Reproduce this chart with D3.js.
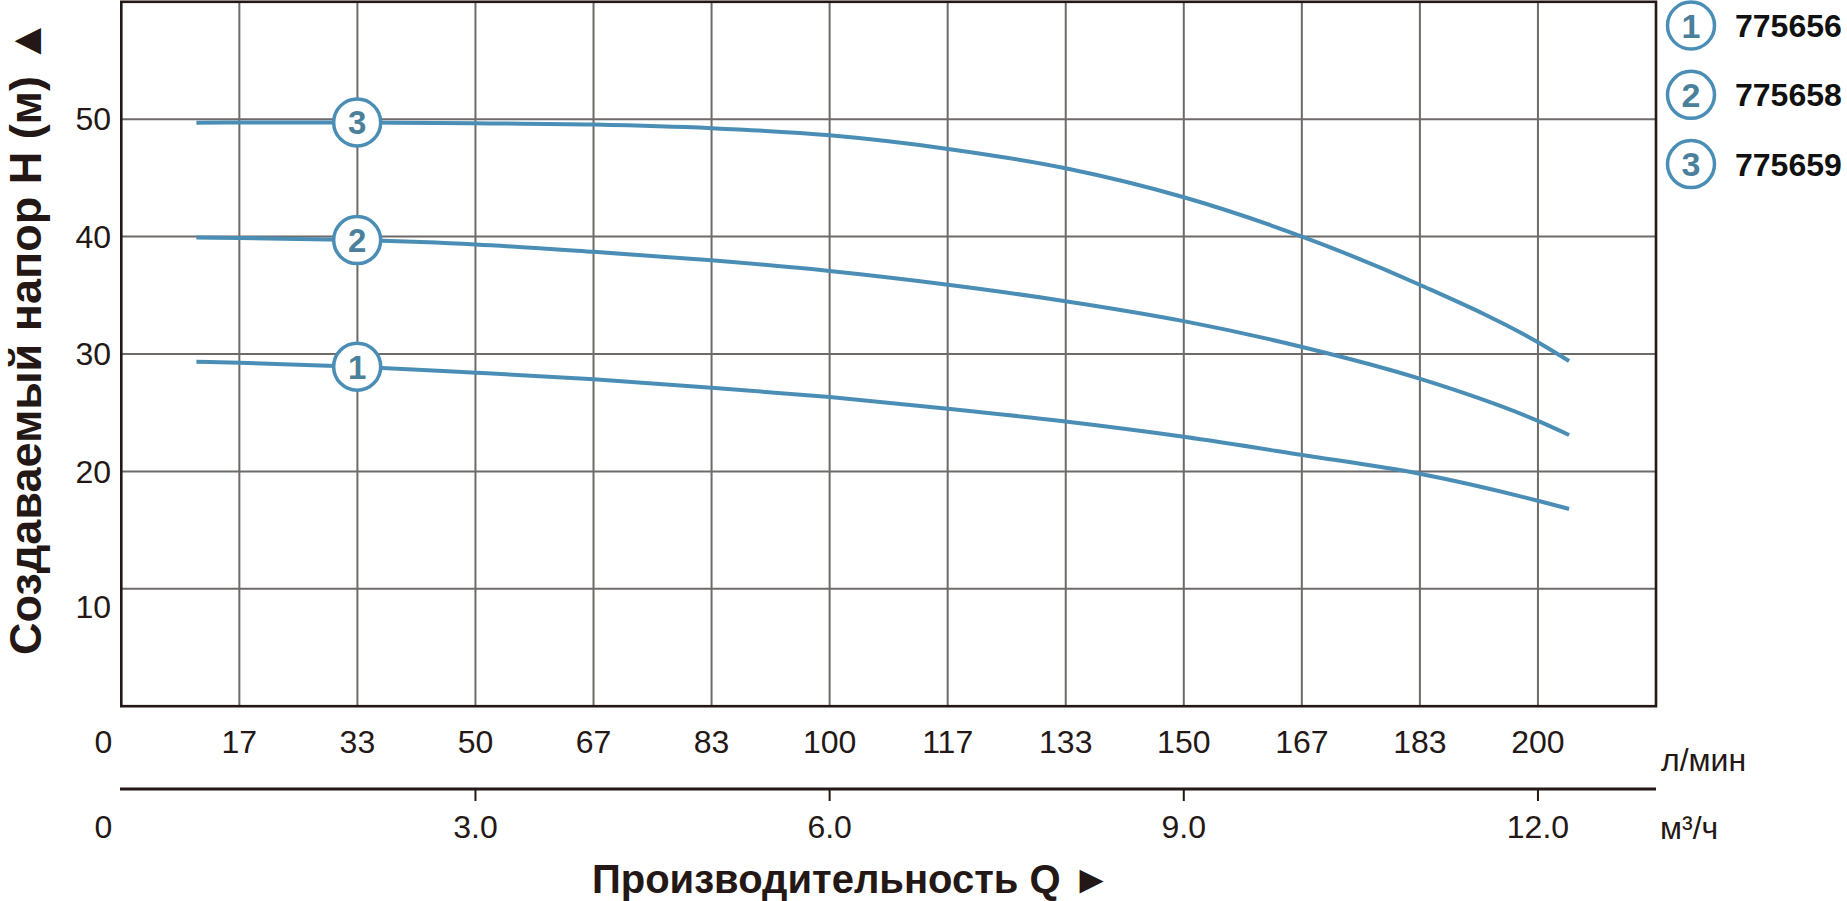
<!DOCTYPE html>
<html><head><meta charset="utf-8">
<script src="https://cdn.jsdelivr.net/npm/d3@7/dist/d3.min.js"></script>
<style>
html,body{margin:0;padding:0;background:#fff;}
svg{display:block;font-family:"Liberation Sans",Arial,sans-serif;}
</style></head>
<body>
<svg id="chart" width="1847" height="901"></svg>
<script>
// ---- data ----
const flowLmin = [10.6, 16.7, 33.3, 50, 66.7, 83.3, 100, 116.7, 133.3, 150, 166.7, 183.3, 200, 204.4];
const head775656 = [29.35, 29.26, 28.92, 28.41, 27.84, 27.13, 26.33, 25.34, 24.25, 22.95, 21.4, 19.8, 17.5, 16.8];
const head775658 = [39.92, 39.88, 39.7, 39.33, 38.7, 37.98, 37.07, 35.9, 34.5, 32.8, 30.6, 27.9, 24.3, 23.1];
const head775659 = [49.7, 49.72, 49.72, 49.66, 49.54, 49.23, 48.63, 47.47, 45.82, 43.35, 40.0, 35.9, 31.0, 29.4];
const seriesNames = ["775656", "775658", "775659"];
const seriesNums = ["1", "2", "3"];
const labelFlow = 33.3;            // where the numbered circles sit on the curves
const lminTickLabels = ["0","17","33","50","67","83","100","117","133","150","167","183","200"];
const m3hTicks = [0, 3, 6, 9, 12];
const m3hTickLabels = ["0","3.0","6.0","9.0","12.0"];
const headTicks = [10, 20, 30, 40, 50];
const xUnit1 = "л/мин";
const xUnit2 = "м³/ч";
const yTitle = "Создаваемый напор H (м) ▲";
const xTitle = "Производительность Q ►";

// ---- layout ----
const LMIN_PER_M3H = 1000/60;
const svg = d3.select("#chart");
const x = d3.scaleLinear().domain([0, 13*LMIN_PER_M3H]).range([121.3, 1656]);
const y = d3.scaleLinear().domain([0, 60]).range([706.2, 1.8]);
const xm3 = d3.scaleLinear().domain([0, 13]).range(x.range());

const dark = "#231815", grid = "#6e6a68", blue = "#4a8eb6", numBlue = "#4b809a";

// grid
const gridVals = d3.range(1, 13).map(i => i*LMIN_PER_M3H);
svg.append("g").selectAll("line").data(gridVals).join("line")
  .attr("x1", d => x(d)).attr("x2", d => x(d))
  .attr("y1", y(60)).attr("y2", y(0))
  .attr("stroke", grid).attr("stroke-width", 2);
svg.append("g").selectAll("line").data(headTicks).join("line")
  .attr("x1", x(0)).attr("x2", x.range()[1])
  .attr("y1", d => y(d)).attr("y2", d => y(d))
  .attr("stroke", grid).attr("stroke-width", 2);

// frame
svg.append("rect")
  .attr("x", x(0)).attr("y", y(60))
  .attr("width", x.range()[1]-x(0)).attr("height", y(0)-y(60))
  .attr("fill", "none").attr("stroke", dark).attr("stroke-width", 2.6);

// y tick labels
svg.append("g").selectAll("text").data(headTicks).join("text")
  .attr("x", 111).attr("y", d => y(d) + (d === 10 ? 18 : 0))
  .attr("dy", "0.35em").attr("text-anchor", "end")
  .attr("font-size", 32).attr("fill", dark).text(d => d);

// l/min tick labels
svg.append("g").selectAll("text").data(lminTickLabels).join("text")
  .attr("x", (d, i) => x(i*LMIN_PER_M3H) - (i === 0 ? 18 : 0))
  .attr("y", 742).attr("dy", "0.35em").attr("text-anchor", "middle")
  .attr("font-size", 32).attr("fill", dark).text(d => d);

// m3/h axis
const ax2 = svg.append("g").attr("transform", "translate(0,789)");
ax2.append("line").attr("x1", 120).attr("x2", x.range()[1])
  .attr("stroke", dark).attr("stroke-width", 3);
ax2.selectAll("line.tk").data(m3hTicks.filter(d => d > 0)).join("line")
  .attr("class", "tk").attr("x1", d => xm3(d)).attr("x2", d => xm3(d))
  .attr("y1", 0).attr("y2", 12).attr("stroke", dark).attr("stroke-width", 2);
ax2.selectAll("text").data(m3hTicks).join("text")
  .attr("x", (d, i) => xm3(d) - (d === 0 ? 18 : 0))
  .attr("y", 38).attr("dy", "0.35em").attr("text-anchor", "middle")
  .attr("font-size", 32).attr("fill", dark).text((d, i) => m3hTickLabels[i]);

// unit labels
svg.append("text").attr("x", 1661).attr("y", 760).attr("dy", "0.35em")
  .attr("font-size", 32).attr("fill", dark).text(xUnit1);
svg.append("text").attr("x", 1660).attr("y", 828).attr("dy", "0.35em")
  .attr("font-size", 32).attr("fill", dark).text(xUnit2);

// titles
svg.append("text").attr("transform", "translate(41,655) rotate(-90)")
  .attr("font-size", 45).attr("font-weight", "bold").attr("fill", dark).text(yTitle);
svg.append("text").attr("x", 592).attr("y", 893)
  .attr("font-size", 40).attr("font-weight", "bold").attr("fill", dark).text(xTitle);

// curves
const allSeries = [head775656, head775658, head775659];
const line = d3.line().x(d => x(d[0])).y(d => y(d[1])).curve(d3.curveMonotoneX);
allSeries.forEach((vals, si) => {
  const pts = flowLmin.map((f, i) => [f, vals[i]]);
  svg.append("path").datum(pts).attr("d", line)
    .attr("fill", "none").attr("stroke", blue).attr("stroke-width", 4);
  const idx = flowLmin.indexOf(labelFlow);
  const g = svg.append("g").attr("transform", `translate(${x(labelFlow)},${y(vals[idx])})`);
  g.append("circle").attr("r", 23.5).attr("fill", "#fff").attr("stroke", blue).attr("stroke-width", 3.5);
  g.append("text").attr("text-anchor", "middle").attr("dy", "0.36em")
    .attr("font-size", 33).attr("font-weight", "bold").attr("fill", numBlue).text(seriesNums[si]);
});

// legend
const lg = svg.append("g").selectAll("g").data(seriesNames).join("g")
  .attr("transform", (d, i) => `translate(1691,${25.5 + i*69.3})`);
lg.append("circle").attr("r", 23.5).attr("fill", "#fff").attr("stroke", blue).attr("stroke-width", 3.5);
lg.append("text").attr("text-anchor", "middle").attr("dy", "0.36em")
  .attr("font-size", 34).attr("font-weight", "bold").attr("fill", numBlue).text((d, i) => seriesNums[i]);
lg.append("text").attr("x", 44).attr("dy", "0.36em")
  .attr("font-size", 32).attr("font-weight", "bold").attr("fill", "#111").text(d => d);
</script>
</body></html>
